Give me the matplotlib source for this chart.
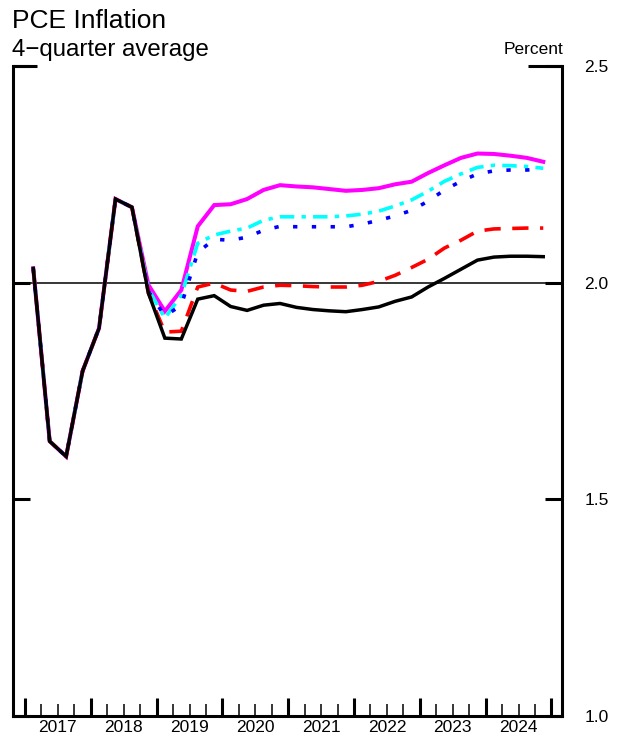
import numpy as np
import matplotlib.pyplot as plt
from matplotlib.lines import Line2D

plt.rcParams['font.family'] = ['Liberation Sans', 'DejaVu Sans']

years = [2017, 2018, 2019, 2020, 2021, 2022, 2023, 2024]

# 2017Q1 - 2018Q3, shared by every line
history = [2.033, 1.634, 1.599, 1.796, 1.895, 2.193, 2.174]

# 2018Q4 - 2024Q4
black = [1.976, 1.872, 1.870, 1.962, 1.970, 1.945, 1.936, 1.948, 1.952, 1.943,
         1.938, 1.935, 1.933, 1.938, 1.944, 1.957, 1.967, 1.990, 2.010, 2.031,
         2.052, 2.059, 2.061, 2.061, 2.060]
red = [1.976, 1.886, 1.888, 1.990, 1.999, 1.983, 1.980, 1.990, 1.994, 1.993,
       1.991, 1.990, 1.990, 1.994, 2.003, 2.017, 2.035, 2.054, 2.080, 2.098,
       2.119, 2.124, 2.125, 2.126, 2.126]
blue = [1.980, 1.923, 1.948, 2.070, 2.100, 2.098, 2.105, 2.121, 2.130, 2.129,
        2.129, 2.129, 2.129, 2.135, 2.144, 2.154, 2.167, 2.188, 2.214, 2.234,
        2.251, 2.258, 2.260, 2.260, 2.262]
cyan = [1.985, 1.918, 1.971, 2.091, 2.110, 2.119, 2.126, 2.144, 2.152, 2.152,
        2.152, 2.152, 2.154, 2.158, 2.165, 2.177, 2.191, 2.211, 2.234, 2.251,
        2.266, 2.271, 2.270, 2.268, 2.264]
magenta = [1.995, 1.934, 1.983, 2.130, 2.179, 2.181, 2.193, 2.214, 2.225, 2.222,
           2.220, 2.216, 2.212, 2.214, 2.218, 2.227, 2.233, 2.253, 2.271, 2.288,
           2.298, 2.297, 2.293, 2.288, 2.279]

series = [
    (magenta, '#ff00ff', '-', 2.9),
    (cyan, '#00ffff', (0, (4, 2, 1.2, 2)), 2.6),
    (blue, '#0000ff', (0, (1.2, 4)), 2.6),
    (red, '#ff0000', (0, (4.5, 3.2)), 2.6),
    (black, 'black', '-', 2.5),
]

fig = plt.figure(figsize=(6.26, 7.40), dpi=100)
ax = fig.add_axes([13 / 626, 24 / 740, 549 / 626, 650 / 740])

ax.axhline(2.0, color='black', lw=1.1, zorder=1)

for vals, col, ls, lw in series:
    y = history + vals
    x = np.arange(len(y)) + 0.5
    ax.plot(x, y, color=col, linestyle=ls, lw=lw, solid_joinstyle='miter', zorder=3)

ax.set_xlim(-0.73, 32.64)
ax.set_ylim(1.0, 2.5)

for side in ['left', 'right', 'bottom']:
    ax.spines[side].set_linewidth(2.2)
ax.spines['top'].set_visible(False)

ax.set_yticks([1.0, 1.5, 2.0, 2.5])
ax.set_yticklabels(['1.0', '1.5', '2.0', '2.5'])
ax.tick_params(axis='y', which='both', direction='in', length=12.5, width=2.2,
               left=True, right=True, labelleft=False, labelright=True,
               labelsize=12.5, pad=16)

ax.set_xticks(np.arange(0, 33, 4))
ax.set_xticks(np.arange(0, 33, 1), minor=True)
ax.set_xticklabels([])
ax.tick_params(axis='x', which='major', direction='in', length=13, width=2.2)
ax.tick_params(axis='x', which='minor', direction='in', length=8.5, width=1.1)

for k, yr in enumerate(years):
    ax.text(4 * k + 2, -0.006, str(yr), transform=ax.get_xaxis_transform(),
            ha='center', va='top', fontsize=12.5)

# longer marks at the top of both vertical spines
ax.add_line(Line2D([0, 24 / 549], [1, 1], transform=ax.transAxes, color='black',
                   lw=2.2, clip_on=False, solid_capstyle='butt'))
ax.add_line(Line2D([1 - 34 / 549, 1], [1, 1], transform=ax.transAxes, color='black',
                   lw=2.2, clip_on=False, solid_capstyle='butt'))

fig.text(12 / 626, 1 - 28 / 740, 'PCE Inflation', fontsize=19, ha='left', va='baseline')
fig.text(12 / 626, 1 - 56 / 740, '4\u2212quarter average', fontsize=17.3, ha='left', va='baseline')
fig.text(563 / 626, 1 - 54 / 740, 'Percent', fontsize=12.5, ha='right', va='baseline')

fig.savefig('out.png', dpi=100)
